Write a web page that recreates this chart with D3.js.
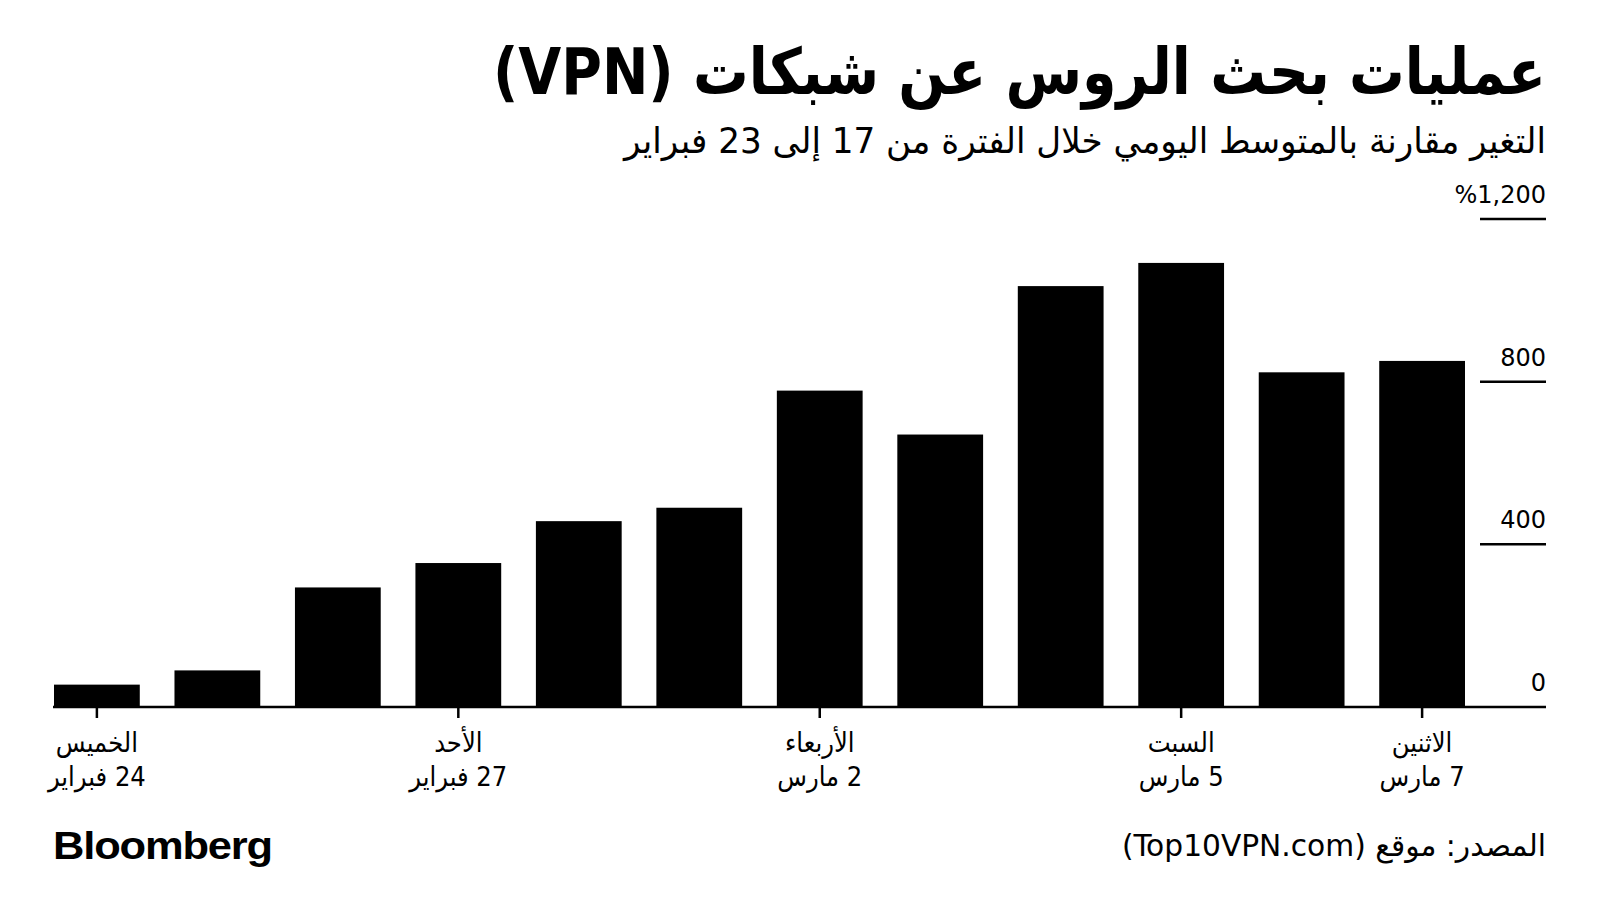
<!DOCTYPE html>
<html><head><meta charset="utf-8">
<script src="https://cdn.jsdelivr.net/npm/d3@7"></script>
<style>
html,body{margin:0;padding:0;background:#fff;}
svg{display:block;}
</style></head>
<body>
<script>
// ---- data ----
const dates = ["2022-02-24","2022-02-25","2022-02-26","2022-02-27","2022-02-28","2022-03-01","2022-03-02","2022-03-03","2022-03-04","2022-03-05","2022-03-06","2022-03-07"];
const values = [55, 90, 294, 354, 457, 490, 778, 670, 1035, 1092, 823, 851];
const tickDates = ["2022-02-24","2022-02-27","2022-03-02","2022-03-05","2022-03-07"];
const tickDays = ["الخميس","الأحد","الأربعاء","السبت","الاثنين"];
const tickDayMonth = ["24 فبراير","27 فبراير","2 مارس","5 مارس","7 مارس"];
const yTicks = [0, 400, 800, 1200];
const yTickLabels = ["0","400","800","%1,200"];
const title = "عمليات بحث الروس عن شبكات (VPN)";
const subtitle = "التغير مقارنة بالمتوسط اليومي خلال الفترة من 17 إلى 23 فبراير";
const source = "المصدر: موقع (Top10VPN.com)";
const brand = "Bloomberg";

// ---- layout ----
const W = 1600, H = 924;
const arabicFont = "'DejaVu Sans Condensed','DejaVu Sans','Noto Sans',sans-serif";
const latinFont = "'Liberation Sans',Arial,sans-serif";
const svg = d3.select("body").append("svg").attr("width", W).attr("height", H);

const x = d3.scaleBand().domain(dates).range([54, 1465]).paddingInner(0.288).paddingOuter(0);
const y = d3.scaleLinear().domain([0, 1200]).range([707, 219]);
const right = 1546, gridLeft = 1480;

// title / subtitle
svg.append("text").attr("x", right).attr("y", 94)
  .attr("direction", "rtl").attr("text-anchor", "start")
  .attr("font-family", arabicFont).attr("font-weight", "bold").attr("font-size", 64)
  .attr("textLength", 1053).attr("lengthAdjust", "spacingAndGlyphs")
  .attr("fill", "#000").text(title);
svg.append("text").attr("x", right).attr("y", 153)
  .attr("direction", "rtl").attr("text-anchor", "start")
  .attr("font-family", arabicFont).attr("font-size", 35)
  .attr("textLength", 922).attr("lengthAdjust", "spacingAndGlyphs")
  .attr("fill", "#000").text(subtitle);

// bars
svg.append("g").selectAll("rect").data(values).join("rect")
  .attr("x", (d, i) => x(dates[i]))
  .attr("width", x.bandwidth())
  .attr("y", d => y(d))
  .attr("height", d => y(0) - y(d))
  .attr("fill", "#000");

// y grid + labels
const yg = svg.append("g");
yg.selectAll("line").data(yTicks).join("line")
  .attr("x1", d => d === 0 ? 53 : gridLeft).attr("x2", right)
  .attr("y1", d => y(d)).attr("y2", d => y(d))
  .attr("stroke", "#000").attr("stroke-width", 2.5);
yg.selectAll("text").data(yTicks).join("text")
  .attr("x", right).attr("y", d => y(d) - 16)
  .attr("text-anchor", "end")
  .attr("font-family", "'DejaVu Sans',sans-serif").attr("font-size", 24)
  .attr("fill", "#000")
  .text((d, i) => yTickLabels[i]);

// x axis ticks
const xAxis = d3.axisBottom(x).tickValues(tickDates).tickSize(11).tickFormat("").tickSizeOuter(0);
const xg = svg.append("g").attr("transform", `translate(0,${y(0)})`).call(xAxis);
xg.select(".domain").remove();
xg.selectAll(".tick line").attr("stroke", "#000").attr("stroke-width", 2.5);

const lg = svg.append("g");
tickDates.forEach((d, i) => {
  const cx = x(d) + x.bandwidth() / 2;
  lg.append("text").attr("x", cx).attr("y", 752)
    .attr("direction", "rtl").attr("text-anchor", "middle")
    .attr("font-family", arabicFont).attr("font-size", 27).attr("fill", "#000")
    .text(tickDays[i]);
  lg.append("text").attr("x", cx).attr("y", 786)
    .attr("direction", "rtl").attr("text-anchor", "middle")
    .attr("font-family", arabicFont).attr("font-size", 27).attr("fill", "#000")
    .text(tickDayMonth[i]);
});

// footer
svg.append("text").attr("x", 53).attr("y", 859)
  .attr("font-family", latinFont).attr("font-weight", "bold").attr("font-size", 38)
  .attr("textLength", 219).attr("lengthAdjust", "spacingAndGlyphs")
  .attr("letter-spacing", -1)
  .attr("fill", "#000").text(brand);
svg.append("text").attr("x", right).attr("y", 856)
  .attr("direction", "rtl").attr("text-anchor", "start")
  .attr("font-family", arabicFont).attr("font-size", 30)
  .attr("textLength", 424).attr("lengthAdjust", "spacingAndGlyphs")
  .attr("fill", "#000").text(source);
</script>
</body></html>
